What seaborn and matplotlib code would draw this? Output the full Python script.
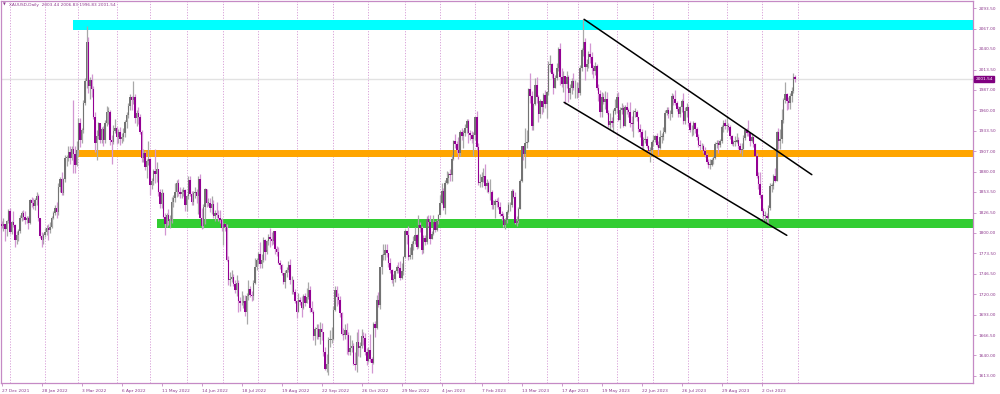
import numpy as np
import pandas as pd
import matplotlib
matplotlib.use("Agg")
import matplotlib.pyplot as plt
import matplotlib.transforms as mtransforms
import seaborn as sns

# ---------------- data (XAUUSD daily) ----------------
first_open = 1811.0
closes = [
    1809, 1811, 1805, 1815, 1829,
    1801, 1814, 1810, 1791, 1797, 1802, 1819, 1826, 1821, 1817, 1819, 1813, 1843, 1839, 1835, 1843, 1848, 1819, 1796, 1791, 1797,
    1801, 1807, 1804, 1808, 1820, 1826, 1833, 1827, 1860, 1870, 1852, 1870, 1898, 1898, 1906, 1898, 1910, 1903, 1889, 1908,
    1943, 1922, 1935, 1970, 1998, 2050, 1992, 2000, 1988, 1951, 1917, 1927, 1943, 1921, 1936, 1921, 1944, 1958, 1958, 1922, 1919, 1933, 1937,
    1925, 1932, 1923, 1925, 1931, 1945, 1954, 1966, 1977, 1974, 1978, 1950, 1957, 1951, 1932, 1898, 1905, 1886, 1894, 1896,
    1863, 1868, 1881, 1877, 1883, 1854, 1838, 1852, 1821, 1811, 1824, 1815, 1816, 1841, 1846, 1853, 1865, 1853, 1851, 1853, 1856, 1837,
    1848, 1869, 1851, 1841, 1852, 1853, 1848, 1871, 1819, 1809, 1834, 1857, 1839, 1839, 1832, 1838, 1822, 1826, 1823, 1820, 1817, 1807,
    1811, 1808, 1764, 1739, 1740, 1742, 1733, 1725, 1735, 1711, 1708, 1709, 1711, 1696, 1718, 1727, 1719, 1717, 1735, 1755, 1765,
    1772, 1760, 1765, 1791, 1775, 1789, 1794, 1792, 1789, 1802, 1779, 1775, 1761, 1758, 1747, 1736, 1748, 1751, 1758, 1738, 1738, 1723, 1711,
    1697, 1712, 1710, 1702, 1718, 1708, 1716, 1725, 1702, 1697, 1665, 1675, 1675, 1664, 1674, 1671, 1644, 1622, 1629, 1660, 1660, 1661,
    1699, 1725, 1716, 1712, 1695, 1668, 1666, 1673, 1666, 1644, 1650, 1652, 1629, 1627, 1657, 1649, 1652, 1665, 1663, 1645, 1633,
    1647, 1635, 1630, 1681, 1676, 1712, 1706, 1755, 1771, 1771, 1778, 1774, 1761, 1751, 1738, 1740, 1750, 1755, 1754, 1741, 1750, 1768,
    1803, 1797, 1769, 1771, 1786, 1789, 1797, 1781, 1810, 1807, 1777, 1793, 1788, 1818, 1814, 1792, 1798, 1814, 1804, 1815, 1824,
    1839, 1855, 1833, 1865, 1872, 1877, 1876, 1897, 1920, 1916, 1908, 1904, 1932, 1926, 1931, 1937, 1946, 1930, 1928, 1923, 1928,
    1951, 1912, 1865, 1867, 1873, 1874, 1861, 1865, 1853, 1854, 1836, 1836, 1842, 1841, 1834, 1825, 1822, 1810, 1817, 1827,
    1836, 1836, 1855, 1847, 1813, 1815, 1831, 1868, 1913, 1903, 1918, 1919, 1988, 1979, 1940, 1969, 1993, 1978, 1956, 1973, 1964, 1980, 1969,
    1984, 2020, 2021, 2008, 1990, 2003, 2015, 2040, 2004, 1995, 2005, 1995, 2004, 1983, 1989, 1998, 1989, 1989, 1990,
    1983, 2016, 2039, 2050, 2017, 2021, 2034, 2030, 2015, 2011, 2018, 1989, 1982, 1958, 1978, 1971, 1975, 1957, 1941, 1946, 1943, 1959, 1963,
    1978, 1948, 1961, 1963, 1940, 1965, 1961, 1958, 1944, 1942, 1958, 1958, 1951, 1936, 1932, 1913, 1921, 1923, 1914, 1907, 1908, 1919,
    1921, 1926, 1915, 1911, 1925, 1925, 1932, 1957, 1961, 1955, 1955, 1979, 1975, 1970, 1962, 1955, 1965, 1972, 1946, 1959, 1965,
    1944, 1934, 1934, 1943, 1936, 1925, 1915, 1913, 1913, 1907, 1902, 1892, 1889, 1889, 1895, 1898, 1916, 1917, 1915, 1920, 1938, 1943, 1940,
    1940, 1939, 1926, 1916, 1919, 1919, 1922, 1913, 1908, 1910, 1924, 1934, 1931, 1930, 1920, 1925, 1916, 1901, 1874, 1864, 1849,
    1828, 1822, 1822, 1820, 1833, 1861, 1861, 1874, 1868, 1932, 1920, 1923, 1948, 1974, 1981, 1973, 1970, 1979, 1985, 2003.44, 2001.54,
]
highs = [
    1815, 1820, 1812, 1817, 1831,
    1832, 1816, 1829, 1811, 1802, 1805, 1823, 1828, 1830, 1828, 1822, 1822, 1844, 1847, 1846, 1845, 1853, 1851, 1820, 1801, 1800,
    1806, 1810, 1812, 1814, 1822, 1829, 1836, 1841, 1865, 1873, 1879, 1872, 1902, 1902, 1914, 1913, 1914, 1974, 1914, 1920,
    1950, 1950, 1937, 1974, 2002, 2070, 2056, 2004, 2008, 1992, 1958, 1934, 1945, 1944, 1939, 1940, 1947, 1966, 1965, 1960, 1928, 1941, 1949,
    1940, 1936, 1939, 1930, 1937, 1948, 1958, 1970, 1981, 1979, 1998, 1982, 1960, 1964, 1955, 1934, 1910, 1907, 1896, 1920,
    1898, 1872, 1884, 1909, 1892, 1884, 1858, 1858, 1854, 1826, 1826, 1831, 1823, 1847, 1849, 1865, 1869, 1870, 1860, 1858, 1860, 1857,
    1849, 1874, 1874, 1855, 1855, 1860, 1857, 1875, 1877, 1833, 1838, 1859, 1857, 1846, 1845, 1848, 1843, 1830, 1841, 1830, 1830, 1820,
    1813, 1813, 1812, 1770, 1749, 1752, 1746, 1738, 1745, 1738, 1716, 1724, 1719, 1719, 1721, 1739, 1731, 1724, 1739, 1767, 1767,
    1775, 1788, 1772, 1795, 1792, 1791, 1798, 1807, 1801, 1802, 1800, 1783, 1781, 1765, 1759, 1748, 1752, 1756, 1763, 1766, 1744, 1740, 1727,
    1712, 1721, 1716, 1717, 1720, 1721, 1728, 1736, 1730, 1711, 1699, 1677, 1681, 1681, 1683, 1682, 1671, 1651, 1642, 1664, 1673, 1677,
    1704, 1730, 1730, 1722, 1718, 1697, 1676, 1681, 1682, 1671, 1667, 1660, 1656, 1645, 1670, 1675, 1657, 1675, 1670, 1669, 1650,
    1651, 1668, 1638, 1683, 1685, 1719, 1723, 1756, 1772, 1786, 1786, 1786, 1774, 1767, 1753, 1746, 1752, 1758, 1762, 1763, 1761, 1770,
    1805, 1803, 1809, 1782, 1790, 1796, 1808, 1799, 1824, 1814, 1809, 1797, 1797, 1822, 1824, 1823, 1803, 1823, 1815, 1818, 1825,
    1850, 1865, 1859, 1869, 1881, 1880, 1884, 1902, 1922, 1929, 1920, 1925, 1935, 1937, 1935, 1942, 1949, 1949, 1935, 1933, 1932,
    1952, 1959, 1917, 1877, 1880, 1885, 1890, 1871, 1868, 1870, 1856, 1843, 1844, 1846, 1847, 1841, 1829, 1826, 1820, 1830,
    1840, 1840, 1857, 1858, 1853, 1822, 1834, 1870, 1914, 1913, 1937, 1935, 1989, 2009, 1985, 1970, 2003, 2004, 1980, 1975, 1972, 1983, 1987,
    1986, 2025, 2032, 2022, 2010, 2006, 2022, 2043, 2048, 2015, 2012, 2005, 2012, 2006, 1994, 2002, 2009, 2000, 1997,
    1997, 2019, 2041, 2079, 2055, 2027, 2038, 2048, 2036, 2020, 2023, 2021, 1994, 1987, 1984, 1983, 1985, 1984, 1961, 1957, 1952, 1962, 1975,
    1983, 1984, 1964, 1970, 1967, 1967, 1971, 1963, 1971, 1953, 1960, 1963, 1960, 1952, 1942, 1936, 1925, 1934, 1926, 1915, 1912, 1922,
    1928, 1928, 1931, 1920, 1935, 1930, 1938, 1960, 1965, 1964, 1960, 1983, 1982, 1987, 1972, 1966, 1966, 1975, 1983, 1964, 1970,
    1966, 1946, 1941, 1946, 1945, 1938, 1929, 1922, 1918, 1916, 1912, 1905, 1897, 1896, 1898, 1901, 1919, 1922, 1922, 1923, 1941, 1947, 1949,
    1953, 1943, 1941, 1928, 1922, 1926, 1930, 1925, 1917, 1917, 1928, 1936, 1937, 1947, 1931, 1930, 1926, 1918, 1904, 1880, 1880,
    1851, 1832, 1829, 1826, 1836, 1865, 1865, 1877, 1885, 1933, 1937, 1936, 1962, 1976, 1997, 1983, 1977, 1983, 1991, 2009, 2006.83,
]
lows = [
    1806, 1802, 1789, 1796, 1813,
    1798, 1799, 1808, 1782, 1785, 1790, 1800, 1816, 1817, 1812, 1813, 1805, 1811, 1834, 1831, 1830, 1836, 1815, 1793, 1781, 1786,
    1795, 1797, 1791, 1800, 1806, 1818, 1823, 1820, 1823, 1853, 1849, 1850, 1867, 1888, 1894, 1890, 1895, 1878, 1878, 1888,
    1900, 1912, 1918, 1930, 1967, 1990, 1983, 1975, 1978, 1949, 1906, 1895, 1923, 1917, 1917, 1913, 1917, 1940, 1942, 1915, 1890, 1916, 1930,
    1916, 1918, 1915, 1917, 1920, 1925, 1937, 1950, 1960, 1960, 1969, 1944, 1940, 1942, 1929, 1892, 1893, 1882, 1872, 1889,
    1850, 1857, 1862, 1865, 1866, 1848, 1832, 1832, 1820, 1797, 1808, 1810, 1807, 1813, 1834, 1840, 1847, 1848, 1845, 1845, 1848, 1829,
    1828, 1844, 1848, 1837, 1836, 1846, 1839, 1825, 1819, 1805, 1807, 1811, 1834, 1835, 1827, 1825, 1820, 1816, 1820, 1816, 1813, 1802,
    1784, 1802, 1763, 1732, 1730, 1736, 1730, 1722, 1717, 1697, 1698, 1706, 1702, 1692, 1681, 1712, 1716, 1711, 1712, 1733, 1751,
    1759, 1754, 1754, 1762, 1764, 1772, 1784, 1781, 1784, 1785, 1772, 1770, 1759, 1753, 1745, 1733, 1728, 1743, 1749, 1733, 1720, 1720, 1708,
    1689, 1696, 1706, 1690, 1700, 1705, 1708, 1714, 1697, 1695, 1660, 1654, 1662, 1662, 1655, 1660, 1639, 1621, 1618, 1614, 1651, 1656,
    1660, 1698, 1705, 1707, 1690, 1666, 1660, 1661, 1642, 1640, 1640, 1644, 1627, 1621, 1618, 1639, 1638, 1649, 1653, 1640, 1627,
    1631, 1631, 1617, 1629, 1664, 1674, 1703, 1700, 1746, 1764, 1764, 1769, 1756, 1747, 1735, 1731, 1736, 1748, 1748, 1739, 1740, 1745,
    1767, 1786, 1765, 1766, 1766, 1778, 1786, 1779, 1780, 1801, 1773, 1774, 1784, 1785, 1809, 1785, 1792, 1797, 1801, 1803, 1811,
    1823, 1838, 1830, 1825, 1864, 1865, 1868, 1868, 1895, 1911, 1904, 1896, 1901, 1922, 1911, 1926, 1930, 1918, 1921, 1917, 1900,
    1922, 1908, 1862, 1860, 1860, 1867, 1857, 1853, 1852, 1843, 1831, 1831, 1819, 1834, 1831, 1822, 1817, 1808, 1805, 1813,
    1826, 1829, 1834, 1845, 1811, 1809, 1813, 1831, 1867, 1895, 1885, 1911, 1919, 1970, 1934, 1935, 1967, 1970, 1945, 1950, 1956, 1958, 1963,
    1950, 1980, 2010, 2002, 1981, 1989, 2000, 2012, 1993, 1991, 1984, 1969, 1990, 1971, 1975, 1981, 1987, 1976, 1976,
    1977, 1980, 2012, 2031, 2000, 2012, 2016, 2022, 2008, 2003, 2006, 1987, 1973, 1952, 1951, 1968, 1962, 1955, 1939, 1936, 1939, 1932, 1955,
    1957, 1946, 1937, 1956, 1939, 1940, 1955, 1951, 1939, 1933, 1925, 1952, 1946, 1932, 1925, 1910, 1910, 1918, 1911, 1903, 1893, 1900,
    1913, 1919, 1914, 1902, 1909, 1917, 1922, 1930, 1954, 1950, 1947, 1952, 1967, 1967, 1959, 1952, 1951, 1958, 1942, 1942, 1951,
    1940, 1932, 1926, 1928, 1931, 1922, 1912, 1908, 1909, 1904, 1899, 1890, 1885, 1884, 1887, 1890, 1896, 1911, 1904, 1912, 1917, 1932, 1936,
    1932, 1935, 1923, 1915, 1913, 1914, 1917, 1909, 1905, 1901, 1910, 1922, 1927, 1927, 1913, 1919, 1912, 1900, 1872, 1858, 1846,
    1827, 1815, 1815, 1814, 1810, 1830, 1853, 1857, 1866, 1868, 1909, 1909, 1917, 1944, 1970, 1960, 1962, 1962, 1971, 1983, 1996.83,
]

date_labels = ["27 Dec 2021", "28 Jan 2022", "3 Mar 2022", "6 Apr 2022", "11 May 2022",
               "14 Jun 2022", "18 Jul 2022", "19 Aug 2022", "22 Sep 2022", "26 Oct 2022",
               "29 Nov 2022", "4 Jan 2023", "7 Feb 2023", "13 Mar 2023", "17 Apr 2023",
               "19 May 2023", "22 Jun 2023", "26 Jul 2023", "29 Aug 2023", "2 Oct 2023"]
label_step = 24
price_ticks = [2093.50, 2067.00, 2040.50, 2013.50, 1987.00, 1960.00, 1933.50, 1907.00,
               1880.00, 1853.50, 1826.50, 1800.00, 1773.50, 1746.50, 1720.00, 1693.00,
               1666.50, 1640.00, 1613.00]
holidays = ["2022-04-15", "2022-12-26", "2023-01-02", "2023-04-07"]

zone_start = [43.0, 45.4, 93.0]
zone_low = [2065.1, 1898.6, 1806.0]
zone_high = [2078.2, 1907.8, 1817.8]
zone_color = ["#00ffff", "#ffa500", "#32cd32"]

channel_upper_x = [349.4, 486.0]
channel_upper_y = [2079.1, 1876.1]
channel_lower_x = [337.4, 471.0]
channel_lower_y = [1970.6, 1796.8]

last_price = 2001.54
title = "XAUUSD,Daily  2003.44 2006.83 1996.83 2001.54"

# ---------------- style ----------------
sns.set_theme(style="white")
plt.rcParams["font.family"] = ["DejaVu Sans"]

PURPLE_TXT = "#8e3a8e"
SPINE = "#c58ac5"
GRID = "#d8a2d8"

n = len(closes)
assert len(highs) == n and len(lows) == n
opens = [first_open] + closes[:-1]

days = pd.bdate_range("2021-12-27", "2023-11-01")
days = days[~days.isin(pd.to_datetime(holidays))]
month_start = [i for i in range(1, len(days)) if days[i].month != days[i - 1].month]

df = pd.DataFrame({"i": np.arange(n), "open": opens, "high": highs,
                   "low": lows, "close": closes})
df["up"] = df["close"] >= df["open"]
df["top"] = df[["open", "close"]].max(axis=1)
df["bot"] = df[["open", "close"]].min(axis=1)
df["high"] = df[["high", "top"]].max(axis=1)
df["low"] = df[["low", "bot"]].min(axis=1)

fig = plt.figure(figsize=(10, 3.94), dpi=100)
fig.patch.set_facecolor("white")
ax = fig.add_axes([0.0005, 11 / 394, 0.973, 382 / 394])
ax.set_facecolor("white")

ax.set_xlim(-0.72, 583.0)
ax.set_ylim(1603.85, 2103.04)

# month grid
for b in month_start:
    ax.axvline(b, color=GRID, lw=0.7, ls=(0, (1.2, 1.6)), zorder=0.5)

# current price line
sns.lineplot(x=[-0.72, 583.0], y=[last_price, last_price], ax=ax,
             color="#e2e2e2", lw=1.0, zorder=0.6)

# zones
for s, lo, hi, c in zip(zone_start, zone_low, zone_high, zone_color):
    ax.fill_between([s, 583.0], lo, hi, color=c, lw=0, zorder=1)

# candles
up = df[df["up"]]
dn = df[~df["up"]]
ax.vlines(up["i"], up["low"], up["high"], color="#a8a8a8", lw=0.9, zorder=2)
ax.vlines(dn["i"], dn["low"], dn["high"], color="#d296d2", lw=0.9, zorder=2)
ax.bar(up["i"], np.maximum(up["top"] - up["bot"], 1.0), bottom=up["bot"],
       width=0.9, color="#737373", lw=0, zorder=3)
ax.bar(dn["i"], np.maximum(dn["top"] - dn["bot"], 1.0), bottom=dn["bot"],
       width=0.9, color="#930093", lw=0, zorder=3)

# channel
ax.plot(channel_upper_x, channel_upper_y, color="black", lw=1.1, zorder=4)
ax.plot(channel_lower_x, channel_lower_y, color="black", lw=1.1, zorder=4)

# axes
for sp in ax.spines.values():
    sp.set_color(SPINE)
    sp.set_linewidth(0.9)
    sp.set_visible(True)
ax.grid(False)
ax.yaxis.tick_right()
ax.set_yticks(price_ticks)
ax.set_yticklabels([f"{v:.2f}" for v in price_ticks])
ax.set_xticks(np.arange(len(date_labels)) * label_step)
ax.set_xticklabels(date_labels)
for lab in ax.get_xticklabels():
    lab.set_ha("left")
ax.tick_params(axis="y", which="both", right=True, left=False, length=2.5,
               width=0.6, color=SPINE, labelsize=3.1, labelcolor=PURPLE_TXT, pad=1.2)
ax.tick_params(axis="x", which="both", bottom=True, length=2.5, width=0.6,
               color=SPINE, labelsize=3.1, labelcolor=PURPLE_TXT, pad=1.5)
ax.set_xlabel("")
ax.set_ylabel("")

# current price label
trans = mtransforms.blended_transform_factory(ax.transAxes, ax.transData)
ax.text(1.002, last_price, f"{last_price:.2f}", transform=trans, ha="left",
        va="center", fontsize=3.1, color="white", zorder=6, clip_on=False,
        bbox=dict(boxstyle="square,pad=0.25", facecolor="#800080", edgecolor="#800080"))

# title
fig.text(4 / 1000, 1 - 5 / 394, "\u25bc", fontsize=2.6, color=PURPLE_TXT,
         va="center", ha="center")
fig.text(9 / 1000, 1 - 5 / 394, title, fontsize=3.1, color=PURPLE_TXT,
         va="center", ha="left")

fig.savefig("out.png", dpi=100, facecolor="white")
